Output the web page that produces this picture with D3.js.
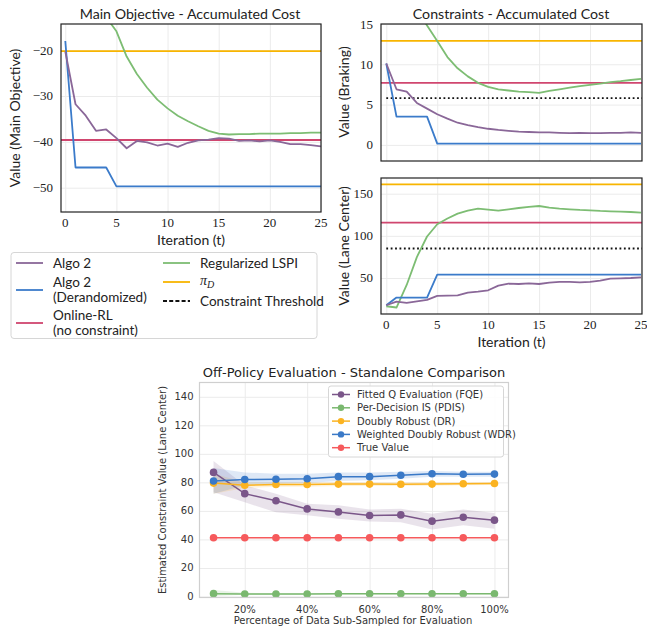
<!DOCTYPE html>
<html>
<head>
<meta charset="utf-8">
<script src="https://cdn.jsdelivr.net/npm/d3@7"></script>
<style>
  body { margin: 0; background: #fff; }
  svg { display: block; }
</style>
</head>
<body>
<svg id="chart" width="647" height="627"></svg>
<script>
/* ----------  DATA  ---------- */
const iterations = [0, 1, 2, 3, 4, 5, 6, 7, 8, 9, 10, 11, 12, 13, 14, 15, 16, 17, 18, 19, 20, 21, 22, 23, 24, 25]
const iterTicks = [0, 5, 10, 15, 20, 25]

// main objective
const mainAlgo2 = [-20.3, -31.8, -34.3, -37.6, -37.3, -39.2, -41.4, -39.8, -40.1, -40.8, -40.4, -41.1, -40.2, -39.7, -39.5, -39.2, -39.3, -39.8, -39.7, -39.9, -39.7, -40.0, -40.5, -40.5, -40.7, -41.0]
const mainDerand = [-18.0, -45.6, -45.6, -45.6, -45.6, -49.7, -49.7, -49.7, -49.7, -49.7, -49.7, -49.7, -49.7, -49.7, -49.7, -49.7, -49.7, -49.7, -49.7, -49.7, -49.7, -49.7, -49.7, -49.7, -49.7, -49.7]
const mainLSPI = [-1.0, -4.0, -7.0, -10.0, -12.8, -15.9, -21.4, -25.2, -28.2, -30.8, -32.7, -34.3, -35.5, -36.6, -37.6, -38.2, -38.4, -38.3, -38.3, -38.2, -38.2, -38.2, -38.1, -38.1, -38.0, -38.0]
const mainOnline = -39.6
const mainPiD = -20.2
const mainTicks = [-20, -30, -40, -50]

// constraint: braking
const brakeAlgo2 = [10.1, 6.9, 6.6, 5.2, 4.5, 3.8, 3.25, 2.75, 2.45, 2.2, 2.0, 1.85, 1.75, 1.65, 1.6, 1.55, 1.55, 1.5, 1.45, 1.5, 1.45, 1.45, 1.5, 1.5, 1.55, 1.5]
const brakeDerand = [10.1, 3.5, 3.5, 3.5, 3.5, 0.15, 0.15, 0.15, 0.15, 0.15, 0.15, 0.15, 0.15, 0.15, 0.15, 0.15, 0.15, 0.15, 0.15, 0.15, 0.15, 0.15, 0.15, 0.15, 0.15, 0.15]
const brakeLSPI = [24.0, 21.0, 19.0, 17.0, 14.8, 12.9, 10.9, 9.5, 8.5, 7.7, 7.2, 6.9, 6.75, 6.6, 6.55, 6.45, 6.7, 6.9, 7.1, 7.3, 7.45, 7.6, 7.8, 7.9, 8.05, 8.2]
const brakeOnline = 7.7
const brakePiD = 12.9
const brakeThreshold = 5.8
const brakeTicks = [0, 5, 10, 15]

// constraint: lane center
const laneAlgo2 = [17.7, 22.0, 20.5, 22.4, 24.0, 28.7, 29.0, 29.5, 32.7, 33.9, 35.4, 41.0, 43.3, 42.9, 43.7, 42.9, 44.5, 45.3, 45.3, 44.9, 45.3, 46.9, 49.2, 49.6, 50.0, 50.8]
const laneDerand = [17.7, 26.8, 26.8, 26.8, 26.8, 54.0, 54.0, 54.0, 54.0, 54.0, 54.0, 54.0, 54.0, 54.0, 54.0, 54.0, 54.0, 54.0, 54.0, 54.0, 54.0, 54.0, 54.0, 54.0, 54.0, 54.0]
const laneLSPI = [16.5, 15.0, 41.7, 74.8, 99.2, 113.8, 120.5, 126.4, 129.9, 132.3, 131.1, 129.9, 131.5, 133.0, 134.3, 135.4, 133.5, 132.3, 131.5, 130.7, 130.3, 129.5, 129.1, 128.7, 128.3, 127.6]
const laneOnline = 115.7
const lanePiD = 161
const laneThreshold = 85
const laneTicks = [50, 100, 150]

// off-policy evaluation
const pct = [10, 20, 30, 40, 50, 60, 70, 80, 90, 100]
const pctTicks = [20, 40, 60, 80, 100]
const opeTicks = [0, 20, 40, 60, 80, 100, 120, 140]
const fqe = [87, 72.1, 67.1, 61.4, 59.3, 56.8, 57.2, 52.8, 55.6, 53.5]
const fqeLo = [73, 66, 59, 57, 54.5, 52.5, 52, 47, 50, 47.5]
const fqeHi = [95, 78, 72, 65, 64, 61, 61.5, 58, 61, 58.5]
const pdis = [2.0, 1.8, 1.8, 1.8, 1.9, 1.9, 1.9, 1.9, 1.9, 1.9]
const pdisLo = [0.3, 1.2, 1.3, 1.3, 1.4, 1.4, 1.5, 1.5, 1.5, 1.5]
const pdisHi = [4.5, 2.6, 2.4, 2.4, 2.4, 2.4, 2.3, 2.3, 2.3, 2.3]
const dr = [79.5, 78.0, 78.5, 78.5, 78.8, 78.8, 78.7, 78.8, 79.0, 79.2]
const drLo = [72, 76, 77, 77, 77.4, 77.5, 77.5, 77.7, 78, 78.2]
const drHi = [86, 80, 80, 80, 80.2, 80.1, 80, 80, 80.1, 80.2]
const wdr = [81, 82, 82.2, 82.5, 84, 84, 85, 86, 85.7, 85.8]
const wdrLo = [72, 78, 79, 79.5, 81, 81.5, 82.5, 84, 84, 84]
const wdrHi = [90, 87, 86, 86, 87, 87, 87.5, 88, 87.5, 87.5]
const trueVal = [41.2, 41.2, 41.2, 41.2, 41.2, 41.2, 41.2, 41.2, 41.2, 41.2]

/* ----------  STYLE  ---------- */
const C = {
  algo2: '#8a6798',
  derand: '#3b7bca',
  online: '#d0466f',
  lspi: '#7dbd73',
  pid: '#f8b500',
  frame: '#222'
}
const SANS = 'Lato, "DejaVu Sans", sans-serif'
const SERIF = '"Liberation Serif", "DejaVu Serif", serif'
const MPL = '"DejaVu Sans", sans-serif'
const minus = v => String(v).replace('-', '\u2212')

const svg = d3.select('#chart')
const defs = svg.append('defs')

/* ----------  TOP PANEL HELPER  ---------- */
function topPanel (id, box, yDomain, yTicks, series, hlines, threshold, showX) {
  const x = d3.scaleLinear().domain([-0.42, 25]).range([box.x0, box.x1])
  if (id !== 'main') x.domain([-0.52, 25.1])
  const y = d3.scaleLinear().domain(yDomain).range([box.y1, box.y0])
  const g = svg.append('g')

  defs.append('clipPath').attr('id', 'clip-' + id)
    .append('rect')
    .attr('x', box.x0).attr('y', box.y0)
    .attr('width', box.x1 - box.x0).attr('height', box.y1 - box.y0)

  // grid
  g.append('g')
    .attr('transform', `translate(0,${box.y1})`)
    .call(d3.axisBottom(x).tickValues(iterTicks).tickSize(-(box.y1 - box.y0)).tickFormat(''))
    .call(a => a.select('.domain').remove())
    .selectAll('line').attr('stroke', '#ebebeb')
  g.append('g')
    .attr('transform', `translate(${box.x0},0)`)
    .call(d3.axisLeft(y).tickValues(yTicks).tickSize(-(box.x1 - box.x0)).tickFormat(''))
    .call(a => a.select('.domain').remove())
    .selectAll('line').attr('stroke', '#ebebeb')

  const plot = g.append('g').attr('clip-path', `url(#clip-${id})`)

  // constant reference lines
  hlines.forEach(h => {
    plot.append('line')
      .attr('x1', box.x0).attr('x2', box.x1)
      .attr('y1', y(h.v)).attr('y2', y(h.v))
      .attr('stroke', h.color).attr('stroke-width', 1.8)
  })
  if (threshold != null) {
    plot.append('line')
      .attr('x1', x(0)).attr('x2', box.x1)
      .attr('y1', y(threshold)).attr('y2', y(threshold))
      .attr('stroke', '#111').attr('stroke-width', 1.8)
      .attr('stroke-dasharray', '1.8,2.6')
  }

  const line = d3.line().x((d, i) => x(iterations[i])).y(d => y(d))
  series.forEach(s => {
    plot.append('path')
      .datum(s.values)
      .attr('fill', 'none')
      .attr('stroke', s.color)
      .attr('stroke-width', 1.8)
      .attr('stroke-linejoin', 'round')
      .attr('d', line)
  })

  // frame
  g.append('rect')
    .attr('x', box.x0).attr('y', box.y0)
    .attr('width', box.x1 - box.x0).attr('height', box.y1 - box.y0)
    .attr('fill', 'none').attr('stroke', C.frame).attr('stroke-width', 1.2)

  // y tick labels
  yTicks.forEach(t => {
    g.append('text')
      .attr('x', box.x0 - 8).attr('y', y(t) + 4.5)
      .attr('text-anchor', 'end')
      .style('font-family', SERIF).style('font-size', '13px').style('fill', '#222')
      .text(minus(t))
  })
  if (showX) {
    iterTicks.forEach(t => {
      g.append('text')
        .attr('x', x(t)).attr('y', box.y1 + 15)
        .attr('text-anchor', 'middle')
        .style('font-family', SERIF).style('font-size', '13px').style('fill', '#222')
        .text(t)
    })
    g.append('text')
      .attr('x', (box.x0 + box.x1) / 2).attr('y', box.y1 + 33)
      .attr('text-anchor', 'middle')
      .style('font-family', SANS).style('font-size', '14px').style('fill', '#222')
      .text('Iteration (t)')
  }
  return g
}

/* ----------  MAIN OBJECTIVE  ---------- */
const mainBox = { x0: 61, x1: 321, y0: 24, y1: 212 }
topPanel('main', mainBox, [-55.3, -14.3], mainTicks, [
  { values: mainLSPI, color: C.lspi },
  { values: mainDerand, color: C.derand },
  { values: mainAlgo2, color: C.algo2 }
], [{ v: mainPiD, color: C.pid }, { v: mainOnline, color: C.online }], null, true)

svg.append('text')
  .attr('x', 190).attr('y', 19)
  .attr('text-anchor', 'middle')
  .style('font-family', SANS).style('font-size', '14.2px').style('fill', '#222')
  .text('Main Objective - Accumulated Cost')
svg.append('text')
  .attr('transform', 'translate(20,118) rotate(-90)')
  .attr('text-anchor', 'middle')
  .style('font-family', SANS).style('font-size', '14px').style('fill', '#222')
  .text('Value (Main Objective)')

/* ----------  CONSTRAINTS  ---------- */
const brakeBox = { x0: 381, x1: 642, y0: 24, y1: 161 }
topPanel('brake', brakeBox, [-2, 15], brakeTicks, [
  { values: brakeLSPI, color: C.lspi },
  { values: brakeDerand, color: C.derand },
  { values: brakeAlgo2, color: C.algo2 }
], [{ v: brakePiD, color: C.pid }, { v: brakeOnline, color: C.online }], brakeThreshold, false)

const laneBox = { x0: 381, x1: 642, y0: 178, y1: 314 }
topPanel('lane', laneBox, [7.3, 168.6], laneTicks, [
  { values: laneLSPI, color: C.lspi },
  { values: laneDerand, color: C.derand },
  { values: laneAlgo2, color: C.algo2 }
], [{ v: lanePiD, color: C.pid }, { v: laneOnline, color: C.online }], laneThreshold, true)

svg.append('text')
  .attr('x', 511).attr('y', 19)
  .attr('text-anchor', 'middle')
  .style('font-family', SANS).style('font-size', '14.2px').style('fill', '#222')
  .text('Constraints - Accumulated Cost')
svg.append('text')
  .attr('transform', 'translate(349,92) rotate(-90)')
  .attr('text-anchor', 'middle')
  .style('font-family', SANS).style('font-size', '14px').style('fill', '#222')
  .text('Value (Braking)')
svg.append('text')
  .attr('transform', 'translate(349,246) rotate(-90)')
  .attr('text-anchor', 'middle')
  .style('font-family', SANS).style('font-size', '14px').style('fill', '#222')
  .text('Value (Lane Center)')

/* ----------  SHARED LEGEND  ---------- */
const leg = svg.append('g')
leg.append('rect')
  .attr('x', 11).attr('y', 252.5).attr('width', 306).attr('height', 86)
  .attr('rx', 3).attr('fill', '#fff').attr('stroke', '#d6d6d6')

const legItems = [
  { col: 0, ly: 263, lines: ['Algo 2'], color: C.algo2 },
  { col: 0, ly: 290, lines: ['Algo 2', '(Derandomized)'], color: C.derand },
  { col: 0, ly: 323, lines: ['Online-RL', '(no constraint)'], color: C.online },
  { col: 1, ly: 263, lines: ['Regularized LSPI'], color: C.lspi },
  { col: 1, ly: 282, lines: ['pi'], color: C.pid },
  { col: 1, ly: 301, lines: ['Constraint Threshold'], color: '#111', dash: '4,2.2' }
]
legItems.forEach(it => {
  const lx = it.col === 0 ? 16 : 163
  leg.append('line')
    .attr('x1', lx).attr('x2', lx + 27)
    .attr('y1', it.ly).attr('y2', it.ly)
    .attr('stroke', it.color).attr('stroke-width', 1.8)
    .attr('stroke-dasharray', it.dash || null)
  if (it.lines[0] === 'pi') {
    const t = leg.append('text')
      .attr('x', lx + 37).attr('y', it.ly + 3)
      .style('font-family', SERIF).style('font-style', 'italic')
      .style('font-size', '14px').style('fill', '#222')
    t.append('tspan').text('\u03c0')
    t.append('tspan').attr('dy', 3).style('font-size', '10px').text('D')
    return
  }
  const top = it.ly + 4.5 - (it.lines.length - 1) * 7.3
  it.lines.forEach((s, k) => {
    leg.append('text')
      .attr('x', lx + 37).attr('y', top + k * 14.6)
      .style('font-family', SANS).style('font-size', '13.5px').style('fill', '#222')
      .text(s)
  })
})

/* ----------  OFF-POLICY EVALUATION  ---------- */
const opeBox = { x0: 199.5, x1: 508.5, y0: 382.5, y1: 597.5 }
const xo = d3.scaleLinear().domain([5.5, 104.5]).range([opeBox.x0, opeBox.x1])
const yo = d3.scaleLinear().domain([-0.7, 150]).range([opeBox.y1, opeBox.y0])
const ope = svg.append('g')

ope.append('g')
  .attr('transform', `translate(0,${opeBox.y1})`)
  .call(d3.axisBottom(xo).tickValues(pctTicks).tickSize(-(opeBox.y1 - opeBox.y0)).tickFormat(''))
  .call(a => a.select('.domain').remove())
  .selectAll('line').attr('stroke', '#ebebeb')
ope.append('g')
  .attr('transform', `translate(${opeBox.x0},0)`)
  .call(d3.axisLeft(yo).tickValues(opeTicks).tickSize(-(opeBox.x1 - opeBox.x0)).tickFormat(''))
  .call(a => a.select('.domain').remove())
  .selectAll('line').attr('stroke', '#ebebeb')

const opeSeries = [
  { name: 'Fitted Q Evaluation (FQE)', v: fqe, lo: fqeLo, hi: fqeHi, color: '#7a5689' },
  { name: 'Per-Decision IS (PDIS)', v: pdis, lo: pdisLo, hi: pdisHi, color: '#7ab86f' },
  { name: 'Doubly Robust (DR)', v: dr, lo: drLo, hi: drHi, color: '#fbb321' },
  { name: 'Weighted Doubly Robust (WDR)', v: wdr, lo: wdrLo, hi: wdrHi, color: '#3a79c7' },
  { name: 'True Value', v: trueVal, lo: null, hi: null, color: '#f65a5c' }
]

const area = (lo, hi) => d3.area()
  .x((d, i) => xo(pct[i]))
  .y0((d, i) => yo(lo[i]))
  .y1((d, i) => yo(hi[i]))(pct)

opeSeries.forEach(s => {
  if (s.lo) {
    ope.append('path')
      .attr('d', area(s.lo, s.hi))
      .attr('fill', s.color).attr('fill-opacity', 0.17)
  }
})
opeSeries.forEach(s => {
  ope.append('path')
    .datum(s.v)
    .attr('fill', 'none')
    .attr('stroke', s.color).attr('stroke-width', 1.5)
    .attr('d', d3.line().x((d, i) => xo(pct[i])).y(d => yo(d)))
  ope.selectAll(null)
    .data(s.v)
    .join('circle')
    .attr('cx', (d, i) => xo(pct[i]))
    .attr('cy', d => yo(d))
    .attr('r', 3.8)
    .attr('fill', s.color)
})

ope.append('rect')
  .attr('x', opeBox.x0).attr('y', opeBox.y0)
  .attr('width', opeBox.x1 - opeBox.x0).attr('height', opeBox.y1 - opeBox.y0)
  .attr('fill', 'none').attr('stroke', '#cfcfcf').attr('stroke-width', 1.2)

opeTicks.forEach(t => {
  ope.append('text')
    .attr('x', opeBox.x0 - 6).attr('y', yo(t) + 3.5)
    .attr('text-anchor', 'end')
    .style('font-family', MPL).style('font-size', '10px').style('fill', '#333')
    .text(t)
})
pctTicks.forEach(t => {
  ope.append('text')
    .attr('x', xo(t)).attr('y', opeBox.y1 + 15)
    .attr('text-anchor', 'middle')
    .style('font-family', MPL).style('font-size', '10px').style('fill', '#333')
    .text(t + '%')
})
ope.append('text')
  .attr('x', 353).attr('y', 624)
  .attr('text-anchor', 'middle')
  .style('font-family', MPL).style('font-size', '10px').style('fill', '#333')
  .text('Percentage of Data Sub-Sampled for Evaluation')
ope.append('text')
  .attr('transform', `translate(166,${(opeBox.y0 + opeBox.y1) / 2}) rotate(-90)`)
  .attr('text-anchor', 'middle')
  .style('font-family', MPL).style('font-size', '10px').style('fill', '#333')
  .text('Estimated Constraint Value (Lane Center)')
ope.append('text')
  .attr('x', (opeBox.x0 + opeBox.x1) / 2).attr('y', 377)
  .attr('text-anchor', 'middle')
  .style('font-family', MPL).style('font-size', '13px').style('fill', '#222')
  .text('Off-Policy Evaluation - Standalone Comparison')

// legend
const ol = ope.append('g')
ol.append('rect')
  .attr('x', 328.5).attr('y', 386).attr('width', 175).attr('height', 71)
  .attr('rx', 2.5).attr('fill', '#fff').attr('fill-opacity', 0.85).attr('stroke', '#d6d6d6')
opeSeries.forEach((s, i) => {
  const ly = 394.5 + i * 13.3
  ol.append('line')
    .attr('x1', 332).attr('x2', 350).attr('y1', ly).attr('y2', ly)
    .attr('stroke', s.color).attr('stroke-width', 1.5)
  ol.append('circle').attr('cx', 341).attr('cy', ly).attr('r', 3.2).attr('fill', s.color)
  ol.append('text')
    .attr('x', 357).attr('y', ly + 3.5)
    .style('font-family', MPL).style('font-size', '10px').style('fill', '#333')
    .text(s.name)
})
</script>
</body>
</html>
